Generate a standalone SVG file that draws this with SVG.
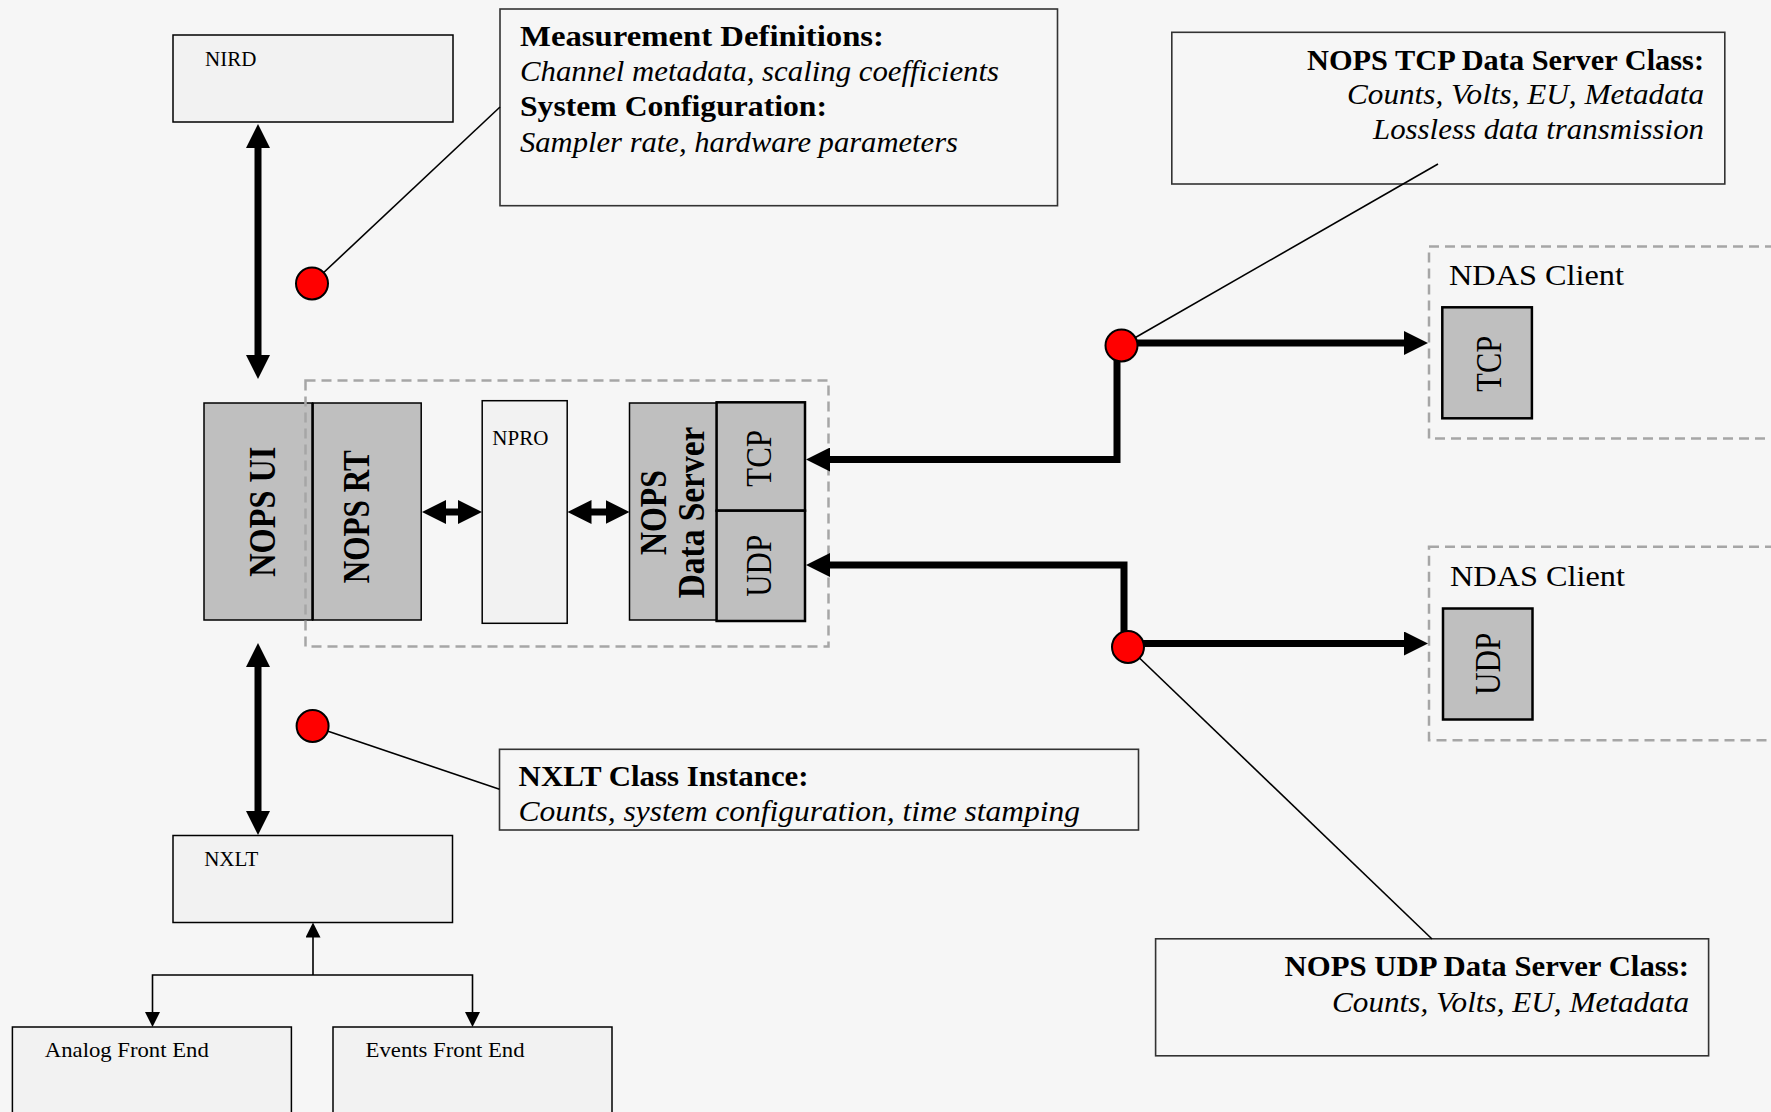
<svg xmlns="http://www.w3.org/2000/svg" width="1771" height="1112" viewBox="0 0 1771 1112">
  <style>
    text { font-family: "Liberation Serif", "Times New Roman", serif; fill: #000; }
    .lbl { font-size: 21px; }
    .box { fill: #f2f2f2; stroke: #000; stroke-width: 1.5; }
    .blk { fill: #bfbfbf; stroke: #000; stroke-width: 1.5; }
    .port { fill: #bfbfbf; stroke: #000; stroke-width: 2.5; }
    .note { fill: none; stroke: #333; stroke-width: 1.6; }
    .group { fill: none; stroke: #a6a6a6; stroke-width: 2.5; stroke-dasharray: 10 6; }
    .rot { font-size: 38px; font-weight: bold; }
    .rotp { font-size: 35px; }
    .hd { font-size: 30px; font-weight: bold; }
    .it { font-size: 30px; font-style: italic; }
    .thick { fill: none; stroke: #000; stroke-width: 7; stroke-linejoin: miter; }
    .thin { fill: none; stroke: #000; stroke-width: 1.6; }
    .lead { fill: none; stroke: #000; stroke-width: 1.6; }
    .dot { fill: #ff0000; stroke: #000; stroke-width: 2; }
  </style>
  <defs>
    <marker id="head" markerUnits="userSpaceOnUse" viewBox="0 0 24 24" markerWidth="24" markerHeight="24" refX="4" refY="12" orient="auto-start-reverse">
      <path d="M0,0 L24,12 L0,24 z" fill="#000"/>
    </marker>
    <marker id="head-s" markerUnits="userSpaceOnUse" viewBox="0 0 15 15" markerWidth="15" markerHeight="15" refX="3" refY="7.5" orient="auto-start-reverse">
      <path d="M0,0 L15,7.5 L0,15 z" fill="#000"/>
    </marker>
  </defs>

  <rect width="1771" height="1112" fill="#f6f6f6"/>

  <!-- Nodes -->
  <g id="nird">
    <rect class="box" x="173" y="35" width="280" height="87"/>
    <text class="lbl" x="205" y="66">NIRD</text>
  </g>

  <g id="nops-ui">
    <rect class="blk" x="204" y="403" width="108.6" height="217"/>
    <text class="rot" transform="translate(274.7,511.7) rotate(-90)" text-anchor="middle" textLength="130" lengthAdjust="spacingAndGlyphs">NOPS UI</text>
  </g>

  <g id="nops-rt">
    <rect class="blk" x="312.6" y="403" width="108.6" height="217"/>
    <line x1="312.6" y1="403" x2="312.6" y2="620" stroke="#000" stroke-width="2.5"/>
    <text class="rot" transform="translate(369.4,516.7) rotate(-90)" text-anchor="middle" textLength="133" lengthAdjust="spacingAndGlyphs">NOPS RT</text>
  </g>

  <g id="npro">
    <rect class="box" x="482.2" y="400.7" width="85" height="222.6"/>
    <text class="lbl" x="492.3" y="445">NPRO</text>
  </g>

  <g id="nops-data-server">
    <rect class="blk" x="629.5" y="403" width="87.1" height="217"/>
    <text class="rot" transform="translate(666,512.5) rotate(-90)" text-anchor="middle" textLength="85" lengthAdjust="spacingAndGlyphs">NOPS</text>
    <text class="rot" transform="translate(704,512.5) rotate(-90)" text-anchor="middle" textLength="171.6" lengthAdjust="spacingAndGlyphs">Data Server</text>
  </g>

  <g id="server-tcp">
    <rect class="port" x="716.6" y="402.3" width="88.4" height="108.4"/>
    <text class="rotp" transform="translate(771.4,458.3) rotate(-90)" text-anchor="middle" textLength="56.7" lengthAdjust="spacingAndGlyphs">TCP</text>
  </g>

  <g id="server-udp">
    <rect class="port" x="716.6" y="510.7" width="88.4" height="110.3"/>
    <text class="rotp" transform="translate(771.4,565.8) rotate(-90)" text-anchor="middle" textLength="61.7" lengthAdjust="spacingAndGlyphs">UDP</text>
  </g>

  <g id="nops-group">
    <rect class="group" x="305.5" y="380.5" width="523" height="266"/>
  </g>

  <g id="nxlt">
    <rect class="box" x="173" y="835.5" width="279.5" height="87"/>
    <text class="lbl" x="204.2" y="866">NXLT</text>
  </g>

  <g id="analog-front-end">
    <rect class="box" x="12.4" y="1027" width="279" height="110"/>
    <text class="lbl" x="44.8" y="1057" textLength="164" lengthAdjust="spacingAndGlyphs">Analog Front End</text>
  </g>

  <g id="events-front-end">
    <rect class="box" x="333" y="1027" width="279" height="110"/>
    <text class="lbl" x="365.6" y="1057" textLength="159" lengthAdjust="spacingAndGlyphs">Events Front End</text>
  </g>

  <g id="ndas-client-tcp">
    <rect class="group" x="1429" y="246.5" width="400" height="192"/>
    <text x="1449" y="285" font-size="29" textLength="175" lengthAdjust="spacingAndGlyphs">NDAS Client</text>
    <rect class="port" x="1442.3" y="307.3" width="89.6" height="111"/>
    <text class="rotp" font-size="37" transform="translate(1500.5,363.8) rotate(-90)" text-anchor="middle" textLength="55.7" lengthAdjust="spacingAndGlyphs">TCP</text>
  </g>

  <g id="ndas-client-udp">
    <rect class="group" x="1429" y="546.8" width="400" height="193.5"/>
    <text x="1450" y="586" font-size="29" textLength="175" lengthAdjust="spacingAndGlyphs">NDAS Client</text>
    <rect class="port" x="1443" y="608.5" width="89.5" height="111"/>
    <text class="rotp" font-size="37" transform="translate(1500.2,663.8) rotate(-90)" text-anchor="middle" textLength="62.5" lengthAdjust="spacingAndGlyphs">UDP</text>
  </g>

  <!-- Callout notes -->
  <g id="note-measurement">
    <rect class="note" x="500" y="9" width="557.5" height="196.7"/>
    <text class="hd" x="520" y="45.7" textLength="364" lengthAdjust="spacingAndGlyphs">Measurement Definitions:</text>
    <text class="it" x="520" y="81" textLength="479" lengthAdjust="spacingAndGlyphs">Channel metadata, scaling coefficients</text>
    <text class="hd" x="520" y="115.7" textLength="307" lengthAdjust="spacingAndGlyphs">System Configuration:</text>
    <text class="it" x="520" y="151.5" textLength="438" lengthAdjust="spacingAndGlyphs">Sampler rate, hardware parameters</text>
  </g>

  <g id="note-tcp-server">
    <rect class="note" x="1171.8" y="32.3" width="553" height="151.7"/>
    <text class="hd" x="1704" y="70" text-anchor="end" textLength="397" lengthAdjust="spacingAndGlyphs">NOPS TCP Data Server Class:</text>
    <text class="it" x="1704" y="104.3" text-anchor="end" textLength="357" lengthAdjust="spacingAndGlyphs">Counts, Volts, EU, Metadata</text>
    <text class="it" x="1704" y="139" text-anchor="end" textLength="331" lengthAdjust="spacingAndGlyphs">Lossless data transmission</text>
  </g>

  <g id="note-udp-server">
    <rect class="note" x="1155.6" y="938.8" width="553" height="117"/>
    <text class="hd" x="1689" y="976" text-anchor="end" textLength="404.5" lengthAdjust="spacingAndGlyphs">NOPS UDP Data Server Class:</text>
    <text class="it" x="1689" y="1011.5" text-anchor="end" textLength="357" lengthAdjust="spacingAndGlyphs">Counts, Volts, EU, Metadata</text>
  </g>

  <g id="note-nxlt">
    <rect class="note" x="499.5" y="749.3" width="639" height="80.7"/>
    <text class="hd" font-size="29" x="518.6" y="785.7" textLength="290" lengthAdjust="spacingAndGlyphs">NXLT Class Instance:</text>
    <text class="it" font-size="29" x="518.6" y="820.5" textLength="561.4" lengthAdjust="spacingAndGlyphs">Counts, system configuration, time stamping</text>
  </g>

  <!-- Connectors -->
  <g id="connectors">
    <!-- leader lines from the red markers to their notes -->
    <line class="lead" x1="312" y1="283.5" x2="500" y2="107"/>
    <line class="lead" x1="1121.5" y1="345.5" x2="1438" y2="164"/>
    <line class="lead" x1="1128" y1="647" x2="1432" y2="939"/>
    <line class="lead" x1="312.6" y1="726" x2="499.5" y2="789.3"/>

    <!-- bidirectional data paths -->
    <path class="thick" d="M258,144 V359" marker-start="url(#head)" marker-end="url(#head)"/>
    <path class="thick" d="M258,663 V815" marker-start="url(#head)" marker-end="url(#head)"/>
    <path class="thick" d="M442,512 H462" marker-start="url(#head)" marker-end="url(#head)"/>
    <path class="thick" d="M587.5,512 H609.5" marker-start="url(#head)" marker-end="url(#head)"/>

    <!-- TCP and UDP client links -->
    <path class="thick" d="M1121.5,343 H1408" marker-end="url(#head)"/>
    <path class="thick" d="M1117,346 V459.5 H826" marker-end="url(#head)"/>
    <path class="thick" d="M1124,647 V565 H826" marker-end="url(#head)"/>
    <path class="thick" d="M1128,643.5 H1408" marker-end="url(#head)"/>

    <!-- front ends to NXLT -->
    <path class="thin" d="M313,975 V934.5" marker-end="url(#head-s)"/>
    <path class="thin" d="M152.5,1015 V975 H472.5 V1015" marker-start="url(#head-s)" marker-end="url(#head-s)"/>

    <!-- junction markers -->
    <circle class="dot" cx="312" cy="283.5" r="16"/>
    <circle class="dot" cx="312.6" cy="726" r="16"/>
    <circle class="dot" cx="1121.5" cy="345.5" r="16"/>
    <circle class="dot" cx="1128" cy="647" r="16"/>
  </g>
</svg>
